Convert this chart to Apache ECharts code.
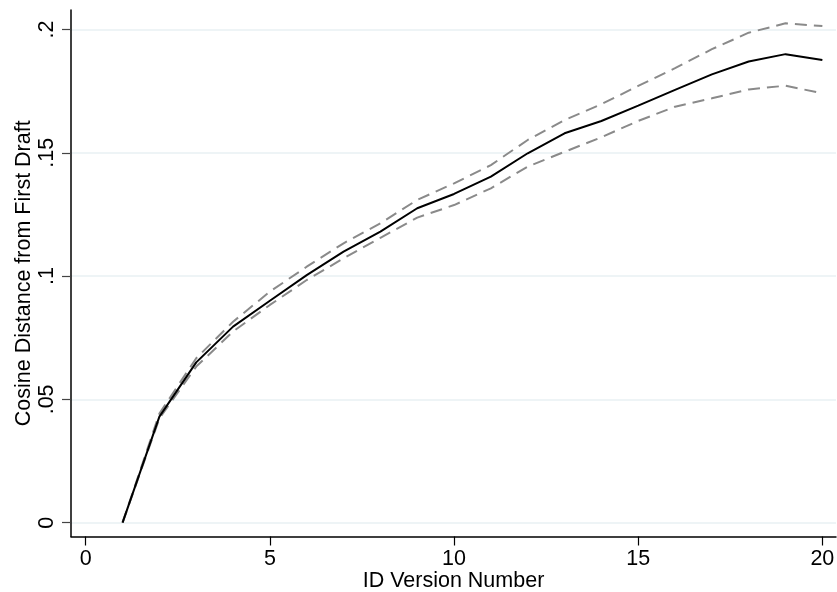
<!DOCTYPE html>
<html>
<head>
<meta charset="utf-8">
<script src="https://cdn.jsdelivr.net/npm/echarts@6/dist/echarts.min.js"></script>
<style>
  html, body { margin: 0; padding: 0; background: #fff; }
  #chart { width: 837px; height: 592px; }
</style>
</head>
<body>
<div id="chart"></div>
<script>
// ID version number on the x axis
const versions = [1, 2, 3, 4, 5, 6, 7, 8, 9, 10, 11, 12, 13, 14, 15, 16, 17, 18, 19, 20];
// mean cosine distance from the first draft
const meanDist = [0, 0.043, 0.065, 0.0795, 0.090, 0.1004, 0.1099, 0.1180, 0.1275, 0.1333,
  0.1403, 0.1498, 0.1579, 0.1629, 0.1691, 0.1755, 0.1818, 0.1870, 0.1900, 0.1876];
// confidence band
const upperDist = [0, 0.0443, 0.0667, 0.0815, 0.0937, 0.1038, 0.1133, 0.1214, 0.1309, 0.1376,
  0.1450, 0.1552, 0.1633, 0.1697, 0.1771, 0.1843, 0.1920, 0.1987, 0.2025, 0.2014];
const lowerDist = [0, 0.0423, 0.0633, 0.0775, 0.0883, 0.0984, 0.1072, 0.1155, 0.1237, 0.1288,
  0.1356, 0.1444, 0.1504, 0.1563, 0.1629, 0.1687, 0.1721, 0.1757, 0.1772, 0.1741];

const xTicks = [0, 5, 10, 15, 20];
const yTicks = [0, 0.05, 0.1, 0.15, 0.2];
const yTickLabels = ['0', '.05', '.1', '.15', '.2'];

const font = 'Liberation Sans, Arial, sans-serif';

function pairs(ys) {
  return versions.map((v, i) => [v, ys[i]]);
}

let chart = echarts.init(document.getElementById('chart'));

let options = {
  animation: false,
  backgroundColor: '#fff',
  grid: {
    left: 71,
    right: 1,
    top: 10,
    bottom: 55.5,
    outerBoundsMode: 'none'
  },
  xAxis: {
    type: 'value',
    min: -0.4,
    max: 20.37,
    name: 'ID Version Number',
    nameLocation: 'middle',
    nameGap: 34,
    nameMoveOverlap: false,
    nameTextStyle: { fontFamily: font, fontSize: 21.5, color: '#000' },
    axisLine: { show: true, onZero: false, lineStyle: { color: '#000', width: 1.5 } },
    axisTick: {
      show: true,
      length: 9,
      customValues: xTicks,
      lineStyle: { color: '#000', width: 1.2 }
    },
    axisLabel: {
      customValues: xTicks,
      margin: 12,
      fontFamily: font,
      fontSize: 21.5,
      color: '#000'
    },
    splitLine: { show: false }
  },
  yAxis: {
    type: 'value',
    min: -0.0056,
    max: 0.2079,
    name: 'Cosine Distance from First Draft',
    nameLocation: 'middle',
    nameGap: 36,
    nameMoveOverlap: false,
    nameTextStyle: { fontFamily: font, fontSize: 21.5, color: '#000' },
    axisLine: { show: true, onZero: false, lineStyle: { color: '#000', width: 1.5 } },
    axisTick: {
      show: true,
      length: 9,
      customValues: yTicks,
      lineStyle: { color: '#444', width: 1.2 }
    },
    axisLabel: {
      customValues: yTicks,
      rotate: 90,
      margin: 13,
      fontFamily: font,
      fontSize: 21.5,
      color: '#000',
      formatter: function (v) {
        let i = yTicks.findIndex(t => Math.abs(t - v) < 1e-9);
        return i >= 0 ? yTickLabels[i] : '';
      }
    },
    splitLine: {
      show: true,
      lineStyle: { color: '#e9f0f3', width: 1.5 }
    }
  },
  series: [
    {
      name: 'upper',
      type: 'line',
      data: pairs(upperDist),
      showSymbol: false,
      lineStyle: { color: '#8a8a8a', width: 2, type: [12, 7] },
      z: 2
    },
    {
      name: 'lower',
      type: 'line',
      data: pairs(lowerDist),
      showSymbol: false,
      lineStyle: { color: '#8a8a8a', width: 2, type: [12, 7] },
      z: 2
    },
    {
      name: 'mean',
      type: 'line',
      data: pairs(meanDist),
      showSymbol: false,
      lineStyle: { color: '#000', width: 2 },
      z: 3
    }
  ]
};
chart.setOption(options);
</script>
</body>
</html>
